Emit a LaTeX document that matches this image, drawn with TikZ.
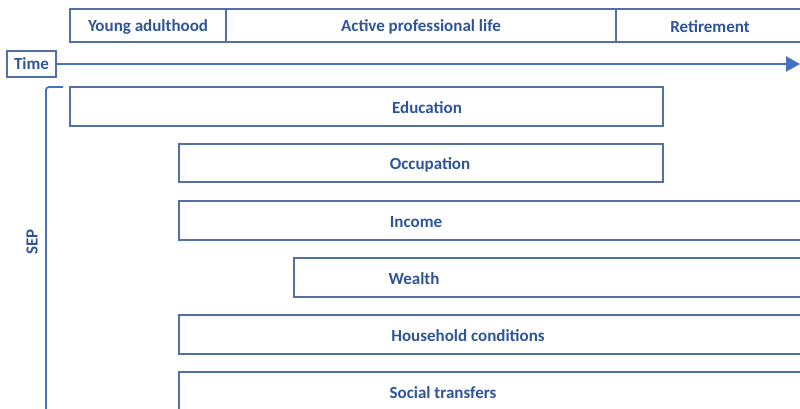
\documentclass[tikz,border=0pt]{standalone}
\usepackage{fontspec}
\setmainfont{Carlito}
\usetikzlibrary{arrows.meta}
\definecolor{txtblue}{RGB}{47,85,151}
\definecolor{boxblue}{RGB}{82,112,168}
\definecolor{arrblue}{RGB}{68,114,196}
\begin{document}
\begin{tikzpicture}[x=1pt,y=-1pt,
  bar/.style={draw=boxblue,line width=1.3pt,fill=white},
  lbl/.style={text=txtblue,font=\fontsize{17}{19}\selectfont\bfseries,yshift=-1.5pt}]
\useasboundingbox (0,0) rectangle (800,408);
\begin{scope}
\clip (0,0) rectangle (800,408);
% life stages
\draw[bar] (70,9) rectangle (226,42);
\node[lbl] (ya) at (148,25.5) {Young adulthood};
\draw[bar] (226,9) rectangle (616,42);
\node[lbl] (apl) at (421,25.5) {Active professional life};
\draw[bar] (616,9) rectangle (830,42);
\node[lbl] (ret) at (710,25.5) {Retirement};
% time axis
\node[draw=boxblue,line width=1.3pt,text=txtblue,font=\fontsize{17}{19}\selectfont\bfseries,minimum width=49pt,minimum height=26pt,inner sep=0pt] (time) at (31.5,64) {Time};
\coordinate (tend) at (800,64);
\draw[arrblue,line width=2.6pt,-{Triangle[length=14pt,width=15pt]}] (time.east) -- (tend);
% SEP bracket
\coordinate (btop) at (63,87);
\coordinate (bbot) at (46,412);
\draw[arrblue,line width=1.8pt,rounded corners=3pt] (btop) -- (46,87) -- (bbot);
\node[text=txtblue,font=\fontsize{17}{19}\selectfont\bfseries,rotate=90] (sep) at (32,242) {SEP};
% SEP dimensions
\draw[bar] (70,87) rectangle (663,126);
\node[lbl] (edu) at (427,106.5) {Education};
\draw[bar] (179,144) rectangle (663,182);
\node[lbl] (occ) at (430,163) {Occupation};
\draw[bar] (179,201) rectangle (830,240);
\node[lbl] (inc) at (416,220.5) {Income};
\draw[bar] (294,258) rectangle (830,297);
\node[lbl] (wea) at (414,277.5) {Wealth};
\draw[bar] (179,315) rectangle (830,354);
\node[lbl] (hou) at (468,334.5) {Household conditions};
\draw[bar] (179,372) rectangle (830,440);
\node[lbl] (soc) at (443,391.5) {Social transfers};
\end{scope}
\end{tikzpicture}
\end{document}
